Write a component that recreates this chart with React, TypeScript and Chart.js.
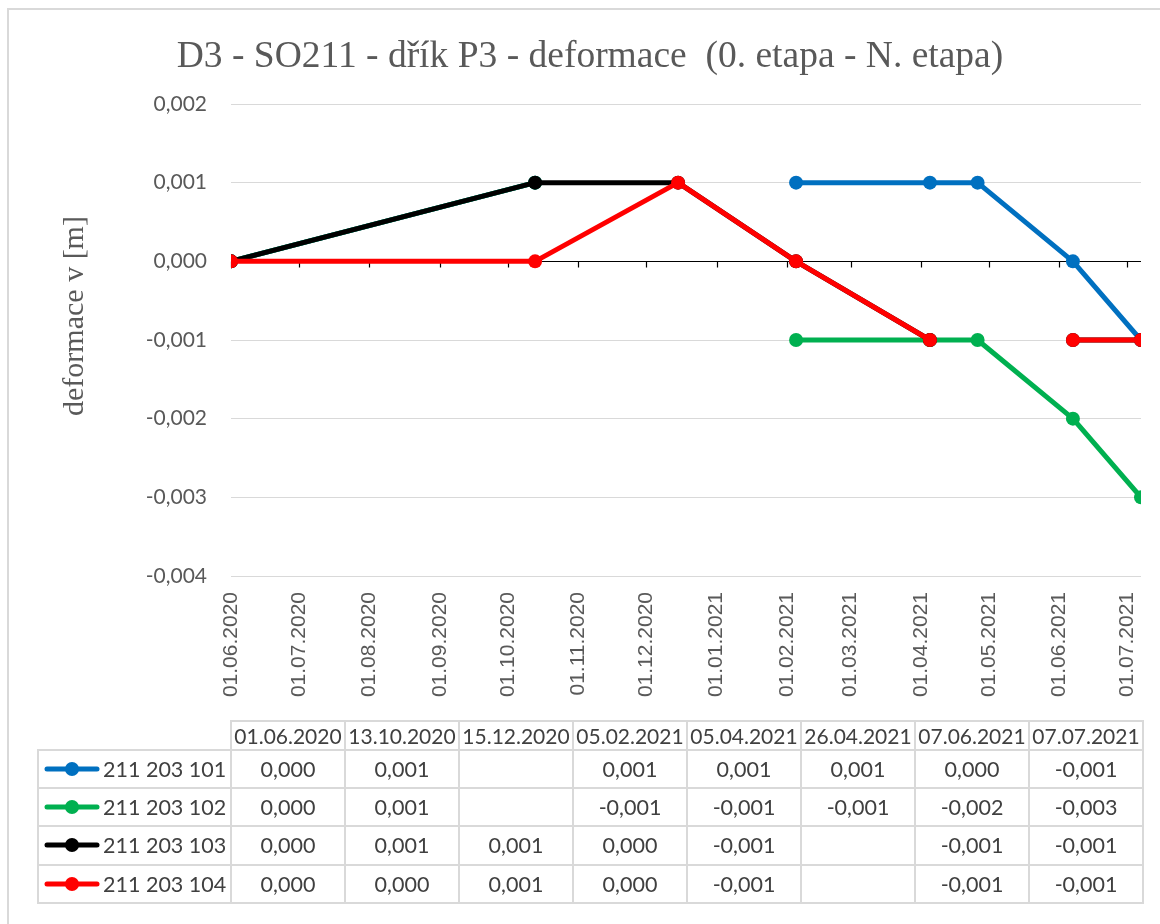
import React, { useEffect, useRef } from "react";
import { Chart, registerables } from "chart.js";

Chart.register(...registerables);

const TITLE = "D3 - SO211 - dřík P3 - deformace  (0. etapa - N. etapa)";
const Y_TITLE = "deformace v [m]";

const DATES = ["01.06.2020", "13.10.2020", "15.12.2020", "05.02.2021", "05.04.2021", "26.04.2021", "07.06.2021", "07.07.2021"];
const SERIES_NAMES = ["211 203 101", "211 203 102", "211 203 103", "211 203 104"];
const S101 = [0, 0.001, null, 0.001, 0.001, 0.001, 0, -0.001];
const S102 = [0, 0.001, null, -0.001, -0.001, -0.001, -0.002, -0.003];
const S103 = [0, 0.001, 0.001, 0, -0.001, null, -0.001, -0.001];
const S104 = [0, 0, 0.001, 0, -0.001, null, -0.001, -0.001];
const SERIES = [S101, S102, S103, S104];
const COLORS = ["#0070C0", "#00B050", "#000000", "#FF0000"];

const X_TICKS = [
  "01.06.2020", "01.07.2020", "01.08.2020", "01.09.2020", "01.10.2020", "01.11.2020", "01.12.2020",
  "01.01.2021", "01.02.2021", "01.03.2021", "01.04.2021", "01.05.2021", "01.06.2021", "01.07.2021",
];
const Y_MIN = -0.004;
const Y_MAX = 0.002;
const Y_STEP = 0.001;

const parseDate = (s: string) => {
  const [d, m, y] = s.split(".").map(Number);
  return Date.UTC(y, m - 1, d);
};
const fmtDate = (v: number) => {
  const dt = new Date(v);
  const p = (n: number) => String(n).padStart(2, "0");
  return `${p(dt.getUTCDate())}.${p(dt.getUTCMonth() + 1)}.${dt.getUTCFullYear()}`;
};
const fmtNum = (v: number | null) => (v === null ? "" : (Math.abs(v) < 1e-12 ? 0 : v).toFixed(3).replace(".", ","));

const GRAY = "#595959";

const framePlugin = {
  id: "frame",
  beforeDraw(chart: any) {
    const ctx = chart.ctx;
    ctx.save();
    ctx.fillStyle = "#ffffff";
    ctx.fillRect(0, 0, chart.width, chart.height);
    ctx.strokeStyle = "#d9d9d9";
    ctx.lineWidth = 2;
    ctx.strokeRect(8, 9, chart.width + 100, chart.height + 100);
    ctx.restore();
  },
};

const zeroAxisPlugin = {
  id: "zeroAxis",
  beforeDatasetsDraw(chart: any) {
    const { ctx, chartArea, scales } = chart;
    const y0 = Math.round(scales.y.getPixelForValue(0)) + 0.5;
    ctx.save();
    ctx.strokeStyle = "#000000";
    ctx.lineWidth = 1.2;
    ctx.beginPath();
    ctx.moveTo(chartArea.left, y0);
    ctx.lineTo(chartArea.right, y0);
    scales.x.ticks.forEach((t: any) => {
      const x = Math.round(scales.x.getPixelForValue(t.value)) + 0.5;
      ctx.moveTo(x, y0);
      ctx.lineTo(x, y0 + 6);
    });
    ctx.stroke();
    ctx.restore();
  },
};

const yTitlePlugin = {
  id: "yTitle",
  afterDraw(chart: any) {
    const ctx = chart.ctx;
    ctx.save();
    ctx.translate(75, 316);
    ctx.rotate(-Math.PI / 2);
    ctx.fillStyle = GRAY;
    ctx.font = '30px "Liberation Serif", serif';
    ctx.textAlign = "center";
    ctx.textBaseline = "middle";
    ctx.fillText(Y_TITLE, 0, 0);
    ctx.restore();
  },
};

function LegendKey({ color }: { color: string }) {
  return (
    <svg width={56} height={16} style={{ display: "block", flex: "0 0 auto" }}>
      <line x1={3} y1={8} x2={53} y2={8} stroke={color} strokeWidth={5} strokeLinecap="round" />
      <circle cx={28} cy={8} r={7} fill={color} />
    </svg>
  );
}

function DataTable() {
  const cell: React.CSSProperties = {
    border: "2px solid #d9d9d9",
    padding: 0,
    textAlign: "center",
    whiteSpace: "nowrap",
    fontWeight: "normal",
    overflow: "visible",
  };
  return (
    <table
      style={{
        position: "absolute",
        left: 37,
        top: 720,
        borderCollapse: "collapse",
        tableLayout: "fixed",
        fontFamily: "Lato, sans-serif",
        fontSize: 21.5,
        color: "#404040",
        width: 193 + 114 * DATES.length,
      }}
    >
      <colgroup>
        <col style={{ width: 193 }} />
        {DATES.map((d) => (
          <col key={d} style={{ width: 114 }} />
        ))}
      </colgroup>
      <thead>
        <tr style={{ height: 29 }}>
          <th style={{ border: "none", padding: 0 }} />
          {DATES.map((d) => (
            <th key={d} style={{ ...cell, fontSize: 21 }}>
              {d}
            </th>
          ))}
        </tr>
      </thead>
      <tbody>
        {SERIES.map((s, i) => (
          <tr key={i} style={{ height: 38.2 }}>
            <td style={{ ...cell, textAlign: "left" }}>
              <div style={{ display: "flex", alignItems: "center", paddingLeft: 5 }}>
                <LegendKey color={COLORS[i]} />
                <span style={{ marginLeft: 3 }}>{SERIES_NAMES[i]}</span>
              </div>
            </td>
            {s.map((v, j) => (
              <td key={j} style={cell}>
                {fmtNum(v)}
              </td>
            ))}
          </tr>
        ))}
      </tbody>
    </table>
  );
}

export default function App() {
  const ref = useRef<HTMLCanvasElement | null>(null);

  useEffect(() => {
    if (!ref.current) return;
    const xs = DATES.map(parseDate);
    const chart = new Chart(ref.current, {
      type: "line",
      data: {
        datasets: SERIES.map((s, i) => ({
          label: SERIES_NAMES[i],
          data: s.map((v, j) => ({ x: xs[j], y: v })),
          borderColor: COLORS[i],
          backgroundColor: COLORS[i],
          pointBackgroundColor: COLORS[i],
          pointBorderColor: COLORS[i],
          pointBorderWidth: 0,
          pointRadius: 7,
          borderWidth: 5,
          borderJoinStyle: "round",
          borderCapStyle: "round",
          spanGaps: false,
          tension: 0,
          order: SERIES.length - i,
        })) as any,
      },
      options: {
        animation: false,
        responsive: false,
        events: [],
        layout: { padding: { left: 39, right: 19, top: 0, bottom: 208 } },
        plugins: {
          legend: { display: false },
          tooltip: { enabled: false },
          title: {
            display: true,
            text: TITLE,
            color: GRAY,
            font: { family: '"Liberation Serif", serif', size: 37.5, weight: "normal" },
            padding: { top: 35, bottom: 24 },
          },
        },
        scales: {
          x: {
            type: "linear",
            min: xs[0],
            max: xs[xs.length - 1],
            afterBuildTicks: (scale: any) => {
              scale.ticks = X_TICKS.map((t) => ({ value: parseDate(t) }));
            },
            afterFit: (scale: any) => {
              scale.height = 140;
              scale.paddingLeft = 0;
              scale.paddingRight = 0;
            },
            grid: { display: false, drawTicks: false },
            border: { display: false },
            ticks: {
              autoSkip: false,
              maxRotation: 90,
              minRotation: 90,
              padding: 16,
              color: GRAY,
              font: { family: '"Liberation Sans", Arial, sans-serif', size: 21 },
              callback: (v: any) => fmtDate(Number(v)),
            },
          },
          y: {
            min: Y_MIN,
            max: Y_MAX,
            afterFit: (scale: any) => {
              scale.width = 192;
            },
            grid: { color: "#d9d9d9", lineWidth: 1, drawTicks: false },
            border: { display: false },
            ticks: {
              stepSize: Y_STEP,
              padding: 24,
              color: GRAY,
              font: { family: "Lato, sans-serif", size: 21 },
              callback: (v: any) => fmtNum(Number(v)),
            },
          },
        },
      } as any,
      plugins: [framePlugin, zeroAxisPlugin, yTitlePlugin],
    });
    return () => chart.destroy();
  }, []);

  return (
    <div style={{ position: "absolute", left: 0, top: 0, width: 1160, height: 924, overflow: "hidden", background: "#fff" }}>
      <canvas ref={ref} width={1160} height={924} style={{ position: "absolute", left: 0, top: 0, width: 1160, height: 924 }} />
      <DataTable />
    </div>
  );
}
